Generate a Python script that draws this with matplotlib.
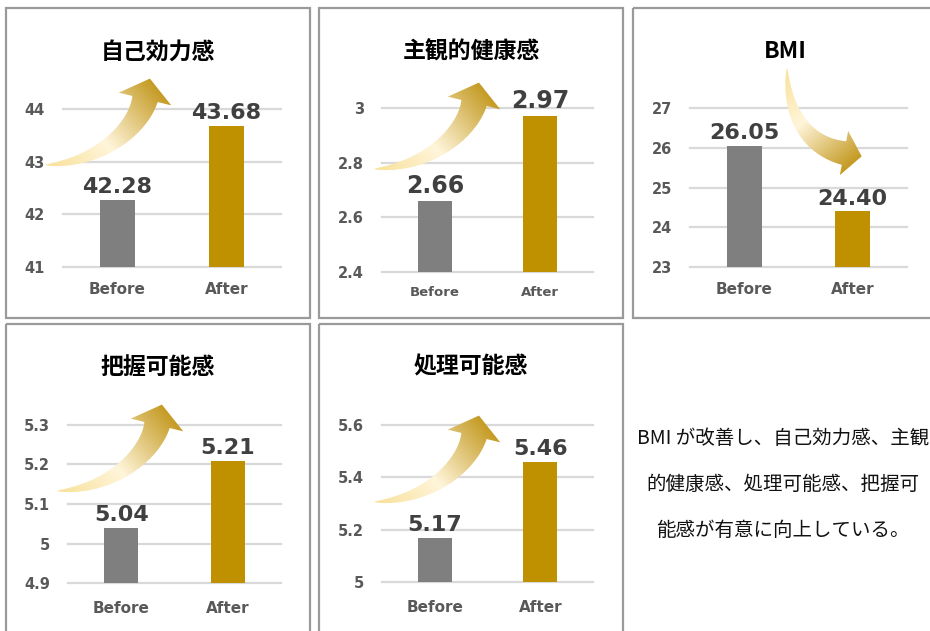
from matplotlib import pyplot as plt
from matplotlib.path import Path
from matplotlib.patches import PathPatch, Rectangle
from matplotlib.colors import LinearSegmentedColormap
import numpy as np

# data
titles = ['自己効力感', '主観的健康感', 'BMI', '把握可能感', '処理可能感']
categories = ['Before', 'After']
before_vals = [42.28, 2.66, 26.05, 5.04, 5.17]
after_vals = [43.68, 2.97, 24.40, 5.21, 5.46]
yticks_list = [
    [41, 42, 43, 44],
    [2.4, 2.6, 2.8, 3],
    [23, 24, 25, 26, 27],
    [4.9, 5, 5.1, 5.2, 5.3],
    [5, 5.2, 5.4, 5.6],
]
note_lines = ['BMI が改善し、自己効力感、主観', '的健康感、処理可能感、把握可', '能感が有意に向上している。']

W, H = 930, 631
CJK = ['Noto Sans CJK JP', 'DejaVu Sans']
GREY = '#7f7f7f'
GOLD = '#bf9000'
TXT = '#595959'

# layout in pixels: plot area (x0, x1, y_bottom, y_top), panel box (x0, y0, x1, y1)
plot_px = [(63, 281, 267, 109), (382, 593, 272, 108), (690, 907, 267, 108),
           (68, 281, 583, 425), (382, 593, 582, 425)]
box_px = [(6, 8, 310, 318), (319, 8, 623, 318), (633, 8, 937, 318),
          (6, 324, 310, 645), (319, 324, 623, 645)]
title_y = [52, 52, 52, 367, 367]
cat_size = [11, 9.5, 11, 11, 11]
cat_pad = [11, 10, 11, 13, 13]
lab_size = [16, 17, 16, 16, 16]

fig = plt.figure(figsize=(W / 100, H / 100), dpi=100)

for k in range(5):
    x0, x1, yb, yt = plot_px[k]
    ax = fig.add_axes([x0 / W, 1 - yb / H, (x1 - x0) / W, (yb - yt) / H])
    ticks = yticks_list[k]
    ax.set_xlim(-0.5, 1.5)
    ax.set_ylim(ticks[0], ticks[-1])
    for t in ticks:
        ax.axhline(t, color='#d9d9d9', lw=1.6, zorder=0, clip_on=False)
    vals = [before_vals[k], after_vals[k]]
    ax.bar([0, 1], vals, width=0.32, color=[GREY, GOLD], zorder=2)
    for i, v in enumerate(vals):
        ax.annotate('{:.2f}'.format(v), (i, v), xytext=(0, 2),
                    textcoords='offset points', ha='center', va='bottom',
                    fontsize=lab_size[k], fontweight='bold', color='#404040',
                    annotation_clip=False)
    ax.set_yticks(ticks, ['{:g}'.format(t) for t in ticks])
    ax.set_xticks([0, 1], categories)
    ax.tick_params(axis='y', length=0, pad=13, labelsize=10.5, labelcolor=TXT)
    ax.tick_params(axis='x', length=0, pad=cat_pad[k], labelsize=cat_size[k], labelcolor=TXT)
    for lab in ax.get_xticklabels() + ax.get_yticklabels():
        lab.set_fontweight('bold')
    for s in ax.spines.values():
        s.set_visible(False)
    ax.patch.set_alpha(0)

# overlay for boxes, titles, arrows
ov = fig.add_axes([0, 0, 1, 1])
ov.set_xlim(0, W)
ov.set_ylim(H, 0)
ov.axis('off')

for k in range(5):
    bx0, by0, bx1, by1 = box_px[k]
    ov.add_patch(Rectangle((bx0, by0), bx1 - bx0, by1 - by0, fill=False,
                           edgecolor='#9a9a9a', lw=1.6, clip_on=False))
    cx = (bx0 + bx1) / 2
    ov.text(cx, title_y[k], titles[k], ha='center', va='center',
            fontsize=16.5, fontweight='bold', color='black', family=CJK)

cmap = LinearSegmentedColormap.from_list(
    'arr', [(0, '#f8e19a'), (0.45, '#fff5da'), (1, '#c49a22')])


def curved_arrow(p0, p1, p2, p3, w_end, head_w, head_len):
    p0, p1, p2, p3 = [np.array(p, float) for p in (p0, p1, p2, p3)]
    t = np.linspace(0, 1, 80)[:, None]
    B = (1 - t) ** 3 * p0 + 3 * (1 - t) ** 2 * t * p1 + 3 * (1 - t) * t ** 2 * p2 + t ** 3 * p3
    dB = 3 * (1 - t) ** 2 * (p1 - p0) + 6 * (1 - t) * t * (p2 - p1) + 3 * t ** 2 * (p3 - p2)
    u = dB / np.linalg.norm(dB, axis=1)[:, None]
    n = np.column_stack([-u[:, 1], u[:, 0]])
    w = w_end * t ** 0.7
    left = B + n * w / 2
    right = B - n * w / 2
    ue, ne = u[-1], n[-1]
    tip = p3 + ue * head_len
    pts = np.vstack([left, p3 + ne * head_w / 2, tip, p3 - ne * head_w / 2, right[::-1]])
    patch = PathPatch(Path(pts, closed=True), facecolor='none', edgecolor='none')
    ov.add_patch(patch)
    xmin, ymin = pts.min(axis=0) - 2
    xmax, ymax = pts.max(axis=0) + 2
    xs = np.linspace(xmin, xmax, 200)
    ys = np.linspace(ymin, ymax, 200)
    X, Y = np.meshgrid(xs, ys)
    d = tip - p0
    tt = np.clip(((X - p0[0]) * d[0] + (Y - p0[1]) * d[1]) / (d @ d), 0, 1)
    im = ov.imshow(cmap(tt), extent=(xmin, xmax, ymax, ymin), aspect='auto',
                   interpolation='bilinear', zorder=5)
    im.set_clip_path(patch)


up_shape = [(45, 165), (100, 163), (138, 128), (145, 99)]
for dx, dy in [(0, 0), (329, 4), (12, 326), (329, 337)]:
    pts = [(x + dx, y + dy) for x, y in up_shape]
    curved_arrow(*pts, w_end=26, head_w=54, head_len=21)

curved_arrow((787, 68), (787, 120), (812, 147), (844, 153), w_end=24, head_w=45, head_len=18)

ov.set_xlim(0, W)
ov.set_ylim(H, 0)

for y, line in zip([438, 484, 530], note_lines):
    ov.text(783, y, line, ha='center', va='center', fontsize=14,
            color='#111111', family=CJK)

plt.savefig('out.png', dpi=100)
